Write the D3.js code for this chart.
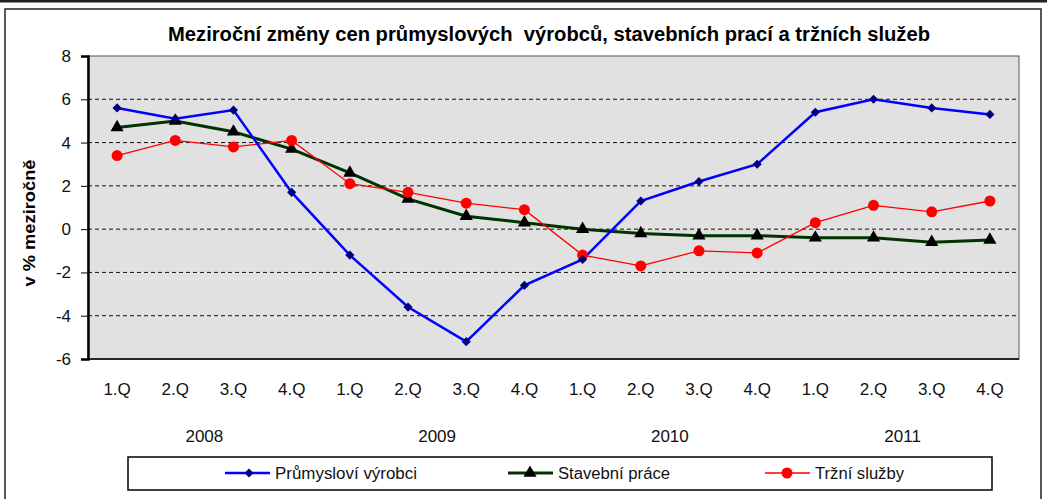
<!DOCTYPE html>
<html>
<head>
<meta charset="utf-8">
<script src="https://cdn.jsdelivr.net/npm/d3@7"></script>
<style>
  body { margin: 0; background: #fff; }
  svg { font-family: "Liberation Sans", Arial, sans-serif; }
</style>
</head>
<body>
<svg id="chart" width="1047" height="499"></svg>
<script>
// data
var quarters = ["1.Q","2.Q","3.Q","4.Q","1.Q","2.Q","3.Q","4.Q","1.Q","2.Q","3.Q","4.Q","1.Q","2.Q","3.Q","4.Q"];
var years = ["2008","2009","2010","2011"];
var prumysl = [5.6, 5.1, 5.5, 1.7, -1.2, -3.6, -5.2, -2.6, -1.4, 1.3, 2.2, 3.0, 5.4, 6.0, 5.6, 5.3];
var stavebni = [4.7, 5.0, 4.5, 3.7, 2.6, 1.4, 0.6, 0.3, 0.0, -0.2, -0.3, -0.3, -0.4, -0.4, -0.6, -0.5];
var trzni = [3.4, 4.1, 3.8, 4.1, 2.1, 1.7, 1.2, 0.9, -1.2, -1.7, -1.0, -1.1, 0.3, 1.1, 0.8, 1.3];
var yTicks = [8, 6, 4, 2, 0, -2, -4, -6];
var seriesNames = ["Průmysloví výrobci", "Stavební práce", "Tržní služby"];

var svg = d3.select("#chart");
var plot = {left: 88, right: 1019, top: 56, bottom: 359};

// frame
svg.append("rect").attr("x", 0).attr("y", 0).attr("width", 1047).attr("height", 2.5).attr("fill", "#222");
svg.append("rect").attr("x", 5).attr("y", 9).attr("width", 1036).attr("height", 500)
  .attr("fill", "none").attr("stroke", "#222").attr("stroke-width", 1.5);

var idx = d3.range(quarters.length);
var x = d3.scaleBand().domain(idx).range([plot.left, plot.right]);
var cx = i => x(i) + x.bandwidth() / 2;
var y = d3.scaleLinear().domain([-6, 8]).range([plot.bottom, plot.top]);

// plot background
svg.append("rect").attr("x", plot.left).attr("y", plot.top)
  .attr("width", plot.right - plot.left).attr("height", plot.bottom - plot.top)
  .attr("fill", "#e1e1e1").attr("stroke", "#555").attr("stroke-width", 1);

// gridlines
svg.append("g").selectAll("line").data(yTicks.filter(t => t > -6 && t < 8)).join("line")
  .attr("x1", plot.left).attr("x2", plot.right)
  .attr("y1", d => y(d)).attr("y2", d => y(d))
  .attr("stroke", "#111").attr("stroke-width", 1).attr("stroke-dasharray", "4,3");

// y axis
var yAxis = svg.append("g").attr("transform", "translate(" + plot.left + ",0)")
  .call(d3.axisLeft(y).tickValues(yTicks).tickSize(7).tickPadding(10).tickFormat(d => String(d)));
yAxis.select(".domain").attr("stroke", "#000").attr("stroke-width", 2.5);
yAxis.selectAll(".tick line").attr("stroke", "#000").attr("stroke-width", 1);
yAxis.selectAll("text").attr("font-size", 17).attr("fill", "#111").attr("font-family", "Liberation Sans, Arial");

// bottom border
svg.append("line").attr("x1", plot.left).attr("x2", plot.right).attr("y1", plot.bottom).attr("y2", plot.bottom)
  .attr("stroke", "#000").attr("stroke-width", 1.5);

// x labels
svg.append("g").selectAll("text").data(idx).join("text")
  .attr("x", i => cx(i)).attr("y", 395).attr("text-anchor", "middle")
  .attr("font-size", 17).attr("fill", "#111").text(i => quarters[i]);
svg.append("g").selectAll("text").data(years).join("text")
  .attr("x", (d, j) => (cx(j * 4 + 1) + cx(j * 4 + 2)) / 2).attr("y", 442).attr("text-anchor", "middle")
  .attr("font-size", 17).attr("fill", "#111").text(d => d);

// title
svg.append("text").attr("x", 168).attr("y", 41)
  .attr("font-size", 20).attr("font-weight", "bold").attr("xml:space", "preserve")
  .attr("textLength", 762).attr("lengthAdjust", "spacingAndGlyphs")
  .text("Meziroční změny cen průmyslových  výrobců, stavebních prací a tržních služeb");

// y title
svg.append("text").attr("transform", "translate(35,223) rotate(-90)").attr("text-anchor", "middle")
  .attr("font-size", 17).attr("font-weight", "bold")
  .attr("textLength", 127).attr("lengthAdjust", "spacingAndGlyphs").text("v % meziročně");

var line = d3.line().x((d, i) => cx(i)).y(d => y(d));

// diamond = square turned 45 degrees
var diamond = d3.symbol().type(d3.symbolSquare).size(42);
var triangle = d3.symbol().type(d3.symbolTriangle).size(75);

// lines
svg.append("path").attr("d", line(stavebni)).attr("fill", "none").attr("stroke", "#003300").attr("stroke-width", 3);
svg.append("path").attr("d", line(trzni)).attr("fill", "none").attr("stroke", "#ff0000").attr("stroke-width", 1.3);
svg.append("path").attr("d", line(prumysl)).attr("fill", "none").attr("stroke", "#0000ff").attr("stroke-width", 2.5);

// markers
svg.append("g").selectAll("path").data(stavebni).join("path")
  .attr("transform", (d, i) => "translate(" + cx(i) + "," + y(d) + ")")
  .attr("d", triangle()).attr("fill", "#000");
svg.append("g").selectAll("circle").data(trzni).join("circle")
  .attr("cx", (d, i) => cx(i)).attr("cy", d => y(d)).attr("r", 5.5).attr("fill", "#ff0000");
svg.append("g").selectAll("path").data(prumysl).join("path")
  .attr("transform", (d, i) => "translate(" + cx(i) + "," + y(d) + ") rotate(45)")
  .attr("d", diamond()).attr("fill", "#000080");

// legend
svg.append("rect").attr("x", 128).attr("y", 457).attr("width", 864).attr("height", 33)
  .attr("fill", "#fff").attr("stroke", "#000").attr("stroke-width", 1.5);
var legendItems = [
  {x: 225, color: "#0000ff", w: 2.5, mark: "diamond", len: 142},
  {x: 508, color: "#003300", w: 3, mark: "triangle", len: 112},
  {x: 765, color: "#ff0000", w: 1.3, mark: "circle", len: 89}
];
var lg = svg.append("g").selectAll("g").data(legendItems).join("g")
  .attr("transform", d => "translate(" + d.x + ",473)");
lg.append("line").attr("x1", 0).attr("x2", 45).attr("stroke", d => d.color).attr("stroke-width", d => d.w);
lg.each(function(d, i) {
  var g = d3.select(this);
  if (d.mark === "diamond") g.append("path").attr("transform", "translate(24,0) rotate(45)").attr("d", diamond()).attr("fill", "#000080");
  if (d.mark === "triangle") g.append("path").attr("transform", "translate(22,0)").attr("d", triangle()).attr("fill", "#000");
  if (d.mark === "circle") g.append("circle").attr("cx", 22).attr("r", 5.5).attr("fill", "#ff0000");
  g.append("text").attr("x", 50).attr("y", 6).attr("font-size", 16).attr("fill", "#111")
    .attr("textLength", d.len).attr("lengthAdjust", "spacingAndGlyphs").text(seriesNames[i]);
});
</script>
</body>
</html>
